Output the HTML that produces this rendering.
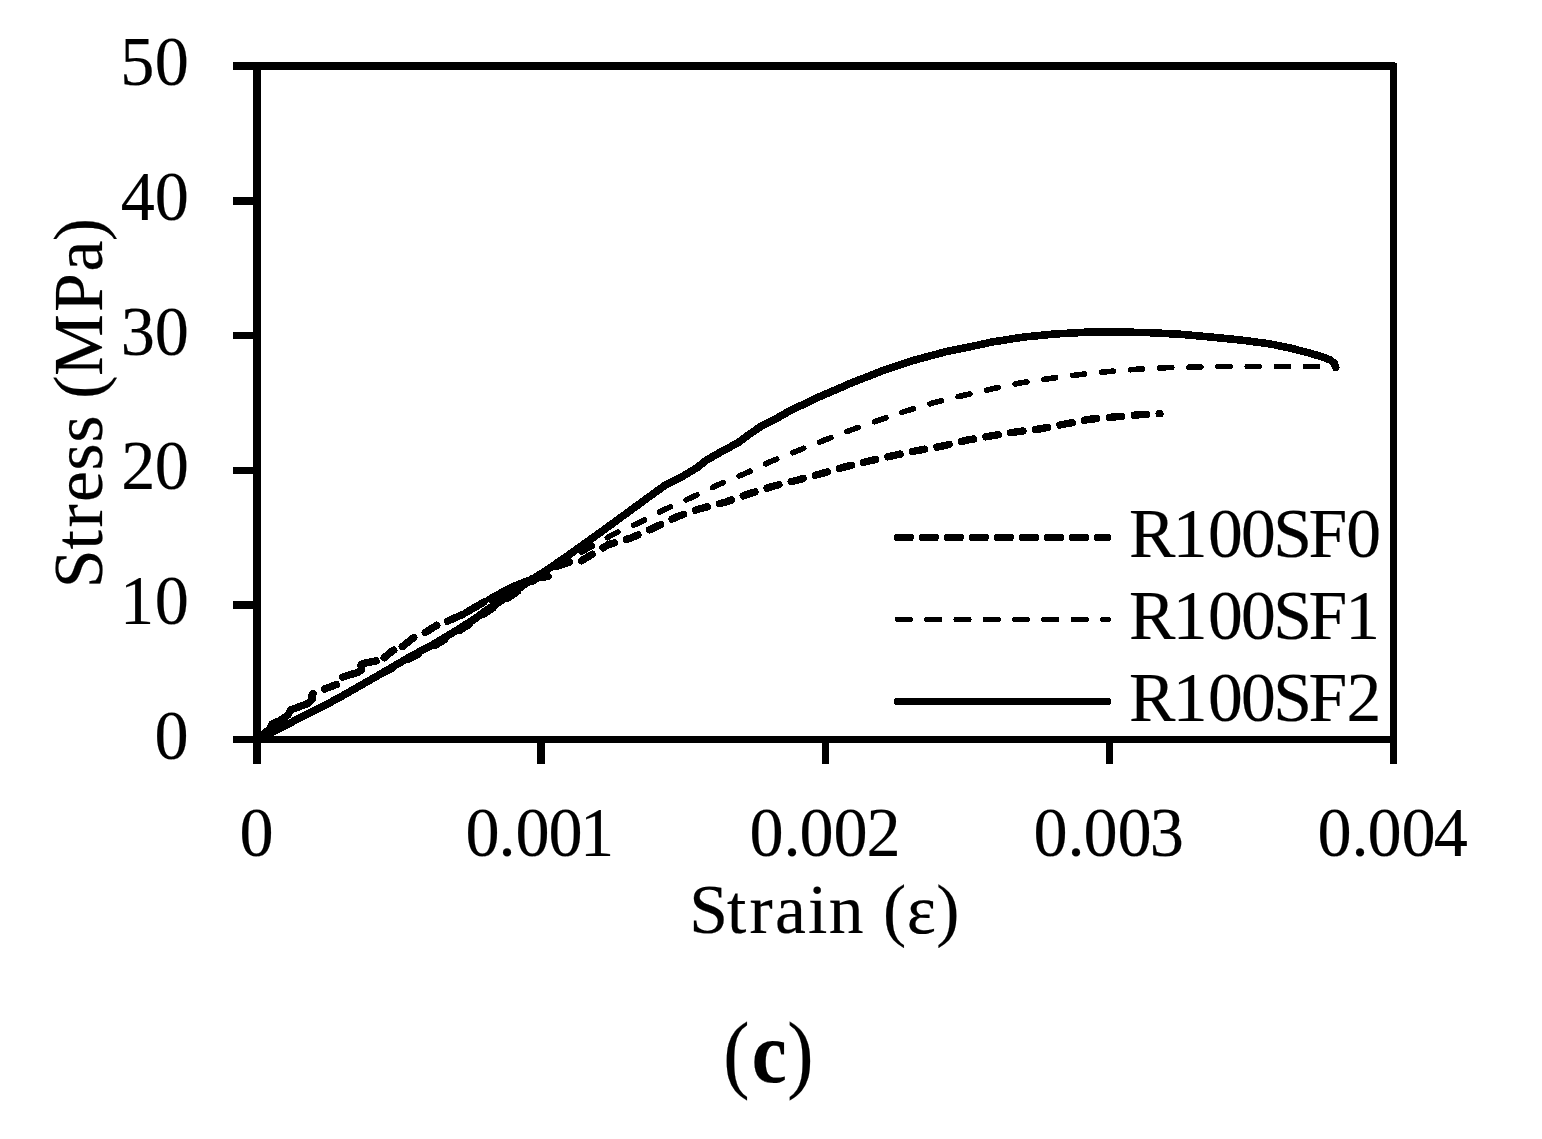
<!DOCTYPE html>
<html lang="en"><head><meta charset="utf-8"><title>Stress-strain curves (c)</title>
<style>html,body{margin:0;padding:0;background:#fff}svg{display:block}text{font-family:"Liberation Serif","DejaVu Serif",serif;fill:#000;stroke:#000;stroke-width:0.2px;white-space:pre}</style></head><body>
<svg width="1542" height="1139" viewBox="0 0 1542 1139">
<rect width="1542" height="1139" fill="#fff"/>
<g fill="none" stroke="#000" stroke-linejoin="round" stroke-linecap="round" shape-rendering="crispEdges">
<path d="M257.0,739.5 L263.0,734.0 L270.0,729.0 L272.0,724.0 L280.0,720.5 L288.0,715.0 L290.5,710.0 L300.0,706.5 L308.5,703.2 L312.5,699.0 L311.5,696.0 L313.0,693.5 M324.5,689.0 L336.4,684.6 M342.7,677.0 L357.7,672.4 L361.5,670.0 L361.0,664.5 L367.0,662.6 L376.0,661.0 M384.2,657.7 L391.3,651.7 L393.7,650.2 M402.4,646.6 L413.8,637.5 M425.3,632.4 L436.8,625.3 M447.4,621.3 L463.2,614.2 M467.0,612.0 L484.0,602.0 M490.0,599.0 L508.0,589.0 M512.0,587.0 L527.0,581.0 M532.0,578.5 L548.0,576.5 M556.5,566.5 L569.5,562.0" stroke-width="7.4"/>
<path d="M581.6,560.7 L586.9,557.5 L608.0,544.8 L631.5,537.8 L654.3,527.7 L677.2,516.6 L700.1,508.7 L724.6,502.4 L748.5,494.0 L772.4,486.4 L796.6,480.4 L820.6,473.8 L844.3,467.1 L868.5,461.1 L893.3,455.6 L917.3,450.5 L942.2,446.1 L966.9,440.2 L990.8,435.9 L1016.1,431.9 L1040.6,428.8 L1065.1,424.0 L1089.6,419.3 L1114.5,416.9 L1139.3,414.8 L1160.0,413.7" stroke-width="7.4" stroke-dasharray="12.4 12.60"/>
<path d="M257.0,740.0 L297.7,719.1 L322.1,706.8 L341.9,696.3 L378.0,676.9 L410.3,659.2 L434.0,647.0 L457.7,632.7 L475.0,621.7 L486.9,612.9 L510.5,597.5 L528.7,584.5 L546.9,573.0 L556.6,566.5 L561.0,564.0 L587.0,549.0 L612.9,534.5 L638.7,522.9 L664.6,509.5 L692.2,497.2 L718.3,484.7 L745.2,473.5 L771.6,461.1 L798.5,450.4 L825.3,439.8 L852.5,429.5 L880.3,419.7 L907.5,410.5 L935.5,402.2 L965.1,395.0 L992.4,388.8 L1020.8,382.8 L1050.1,378.5 L1078.5,374.7 L1107.7,371.6 L1137.0,369.2 L1166.2,367.7 L1195.0,367.1 L1224.0,366.6 L1253.7,366.5 L1282.5,366.5 L1311.0,366.5 L1335.0,366.5" stroke-width="5.6" stroke-dasharray="12.0 17.15" stroke-dashoffset="3.15"/>
<path d="M257.0,740.0 L297.7,719.1 L322.1,706.8 L341.9,696.2 L378.0,675.5 L410.3,656.6 L434.0,644.0 L457.7,629.7 L475.0,618.7 L486.9,609.9 L510.5,594.5 L528.7,581.5 L546.9,570.0 L567.9,555.6 L601.1,531.9 L645.8,499.2 L664.8,485.5 L680.6,477.5 L697.4,467.5 L705.9,460.5 L721.7,451.5 L738.5,442.5 L749.1,434.5 L761.7,425.8 L777.5,417.9 L790.0,410.7 L819.0,397.0 L850.6,383.3 L882.2,370.8 L913.8,360.3 L945.4,351.8 L980.0,344.7 L991.6,342.1 L1023.2,337.1 L1054.8,334.0 L1086.4,332.2 L1118.0,331.9 L1149.6,332.7 L1181.2,334.3 L1211.6,337.1 L1243.2,340.3 L1270.0,343.9 L1291.0,348.2 L1307.0,352.4 L1322.7,356.9 L1330.5,360.1 L1334.3,363.5 L1335.7,367.3" stroke-width="7.6"/>
</g>
<g fill="#000" shape-rendering="crispEdges">
<rect x="253" y="62" width="8" height="702"/>
<rect x="1390" y="63" width="7" height="701"/>
<rect x="233" y="62" width="1162" height="8"/>
<rect x="233" y="736" width="1164" height="7"/>
<rect x="233" y="197" width="24" height="8"/>
<rect x="233" y="332" width="24" height="7"/>
<rect x="233" y="467" width="24" height="7"/>
<rect x="233" y="601" width="24" height="8"/>
<rect x="537" y="740" width="8" height="24"/>
<rect x="822" y="740" width="7" height="24"/>
<rect x="1106" y="740" width="7" height="24"/>
</g>
<g fill="none" stroke="#000" stroke-linecap="round" shape-rendering="crispEdges">
<path d="M897.6,537.5 H1107.4" stroke-width="7.2" stroke-dasharray="12.8 12.2"/>
<path d="M897.4,619.5 H1108.4" stroke-width="5.2" stroke-dasharray="13 16.3"/>
<path d="M897.6,701.5 H1107.4" stroke-width="7.2"/>
</g>
<text x="122.8 157.8" y="85.2" font-size="69.6" transform="scale(0.98,1)">50</text>
<text x="123.2 157.8" y="219.9" font-size="69.6" transform="scale(0.98,1)">40</text>
<text x="123.1 157.8" y="354.6" font-size="69.6" transform="scale(0.98,1)">30</text>
<text x="123.7 157.8" y="489.3" font-size="69.6" transform="scale(0.98,1)">20</text>
<text x="122.5 157.8" y="624.0" font-size="69.6" transform="scale(0.98,1)">10</text>
<text x="157.7" y="758.7" font-size="69.6" transform="scale(0.98,1)">0</text>
<text x="244.3" y="856.2" font-size="69.6" transform="scale(0.98,1)">0</text>
<text x="474.9 508.7 526.0 559.7 591.9" y="856.2" font-size="69.6" transform="scale(0.98,1)">0.001</text>
<text x="764.7 799.5 815.8 850.6 884.1" y="856.2" font-size="69.6" transform="scale(0.98,1)">0.002</text>
<text x="1054.6 1089.3 1105.5 1140.2 1173.1" y="856.2" font-size="69.6" transform="scale(0.98,1)">0.003</text>
<text x="1344.3 1379.2 1395.4 1430.0 1463.1" y="856.2" font-size="69.6" transform="scale(0.98,1)">0.004</text>
<text x="1129.0 1172.7 1207.9 1240.9 1273.3 1308.5 1346.2" y="556.5" font-size="69.6">R100SF0</text>
<text x="1129.0 1172.7 1207.9 1240.9 1273.3 1308.5 1345.2" y="638.8" font-size="69.6">R100SF1</text>
<text x="1129.0 1172.7 1207.9 1240.9 1273.3 1308.5 1346.5" y="721.1" font-size="69.6">R100SF2</text>
<text x="689.2 727.1 749.5 775.1 808.1 828.8 863.6 882.9 906.8 936.3" y="933" font-size="69.6">Strain (ε)</text>
<text x="-3.3 35.6 57.6 83.1 114.6 142.6 169.7 186.3 209.0 273.1 313.4 343.8" y="0" font-size="69.6" transform="translate(102,585) rotate(-90)">Stress (MPa)</text>
<text x="786.1 817.0 855.8" y="1082.3" font-size="85.8" transform="scale(0.92,1)">(<tspan font-weight="bold">c</tspan>)</text>
</svg></body></html>
